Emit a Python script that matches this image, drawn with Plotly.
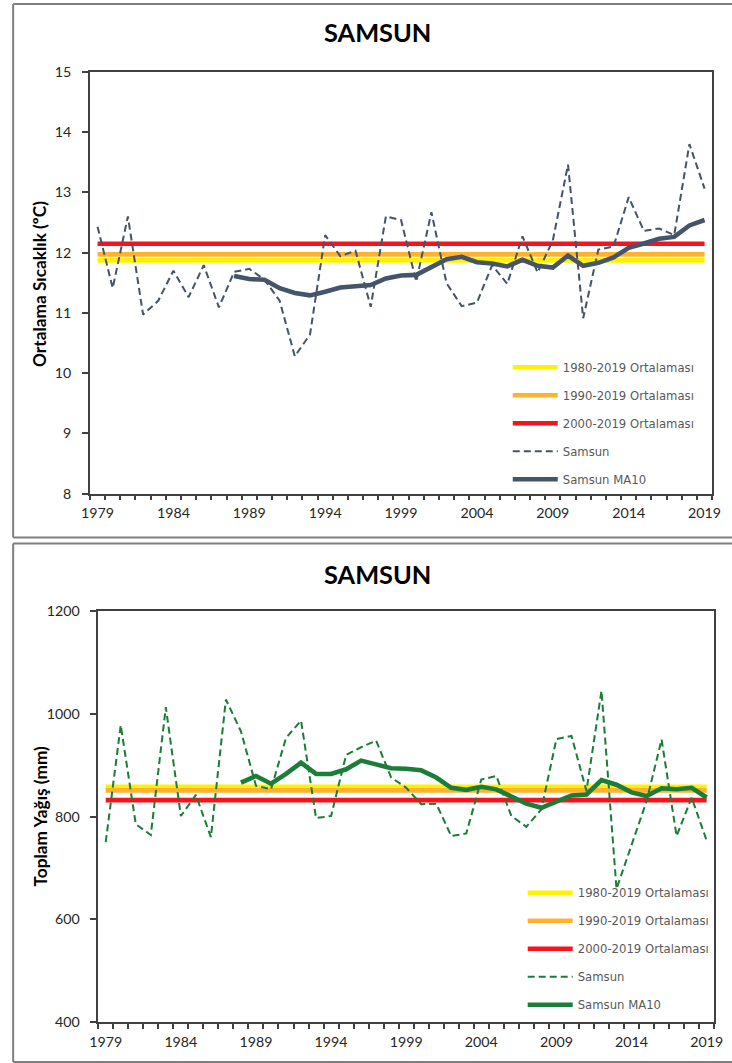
import plotly.graph_objects as go

# The photographed page shows the figure offset by the page margin (8px)
# and slightly reduced (732/748 across, 1063/1079 down); positions below are
# given in picture pixels and converted to figure pixels.
SX, SY, M = 732 / 748, 1063 / 1079, 8
W, H = 745, 1076
K = 1 / SY


def fx(px):
    return (px / SX - M) / W


def fy(py):
    return 1 - (py / SY - M) / H


years = list(range(1979, 2020))
ma_years = list(range(1988, 2020))
mean_span = [1979, 2019]

temp = [12.43, 11.41, 12.60, 10.97, 11.20, 11.70, 11.26, 11.79, 11.09, 11.68,
        11.73, 11.55, 11.20, 10.28, 10.64, 12.29, 11.94, 12.03, 11.10, 12.60,
        12.54, 11.52, 12.67, 11.49, 11.11, 11.17, 11.79, 11.48, 12.27, 11.67,
        12.20, 13.46, 10.91, 12.05, 12.10, 12.92, 12.36, 12.40, 12.29, 13.80, 13.06]
temp_ma10 = [11.61, 11.56, 11.55, 11.41, 11.33, 11.29, 11.35, 11.42, 11.44, 11.46,
             11.57, 11.62, 11.63, 11.75, 11.89, 11.93, 11.84, 11.82, 11.77, 11.88,
             11.78, 11.75, 11.95, 11.78, 11.83, 11.92, 12.08, 12.15, 12.23, 12.26,
             12.45, 12.54]
temp_means = {"1980-2019 Ortalaması": 11.87,
              "1990-2019 Ortalaması": 11.97,
              "2000-2019 Ortalaması": 12.145}

prec = [750, 978, 785, 764, 1013, 801, 842, 760, 1028, 966,
        860, 853, 953, 987, 797, 801, 920, 935, 948, 876,
        856, 824, 825, 762, 767, 872, 879, 801, 780, 814,
        951, 957, 850, 1045, 659, 743, 830, 950, 762, 837, 753]
prec_ma10 = [866, 879, 864, 883, 905, 883, 883, 892, 909, 902,
             894, 893, 890, 876, 856, 852, 858, 853, 840, 825,
             817, 829, 841, 843, 871, 862, 847, 840, 855, 853,
             856, 837]
prec_means = {"1980-2019 Ortalaması": 858,
              "1990-2019 Ortalaması": 851,
              "2000-2019 Ortalaması": 832}

mean_colors = ["#FFF200", "#FFB22C", "#F5141E"]
x_labels = list(range(1979, 2020, 5))

FONT = "Lato, 'Open Sans', sans-serif"
LEG_FONT = "'DejaVu Sans', sans-serif"
AX = "#404040"
FRAME = "#7F7F7F"

fig = go.Figure()


def add_panel(means, series, ma, color, xa, ya, legend):
    for (name, val), c in zip(means.items(), mean_colors):
        fig.add_trace(go.Scatter(x=mean_span, y=[val, val], mode="lines", name=name,
                                 line=dict(color=c, width=4.5 * K), xaxis=xa, yaxis=ya,
                                 legend=legend, legendgroup=legend + name))
    fig.add_trace(go.Scatter(x=years, y=series, mode="lines", name="Samsun",
                             line=dict(color=color, width=2 * K, dash="7px,4px"),
                             xaxis=xa, yaxis=ya, legend=legend, legendgroup=legend + "s"))
    fig.add_trace(go.Scatter(x=ma_years, y=ma, mode="lines", name="Samsun MA10",
                             line=dict(color=color, width=4.5 * K),
                             xaxis=xa, yaxis=ya, legend=legend, legendgroup=legend + "m"))


add_panel(temp_means, temp, temp_ma10, "#44546A", "x", "y", "legend")
add_panel(prec_means, prec, prec_ma10, "#1B7D38", "x2", "y2", "legend2")


def xaxis(domain, anchor):
    return dict(domain=domain, anchor=anchor, range=[1978.5, 2019.5],
                tickmode="array", tickvals=x_labels, ticks="", showgrid=False,
                zeroline=False, showline=True, mirror=True, linecolor=AX, linewidth=1.5,
                tickfont=dict(family=FONT, size=14 * K, color="#262626"),
                ticklabelstandoff=6,
                minor=dict(tickmode="linear", tick0=1978.5, dtick=1, ticks="outside",
                           ticklen=5, tickwidth=1.5, tickcolor=AX, showgrid=False))


def yaxis(domain, anchor, rng, dt):
    return dict(domain=domain, anchor=anchor, range=rng, dtick=dt, tick0=rng[0],
                ticks="outside", ticklen=6, tickwidth=1.5, tickcolor=AX,
                showgrid=False, zeroline=False, showline=True, mirror=True,
                linecolor=AX, linewidth=1.5, ticklabelstandoff=8,
                tickfont=dict(family=FONT, size=14 * K, color="#262626"))


legend_common = dict(bgcolor="rgba(0,0,0,0)", borderwidth=0,
                     font=dict(family=LEG_FONT, size=11.5 * K, color="#595959"),
                     tracegroupgap=9, itemwidth=45, traceorder="grouped",
                     xanchor="left", yanchor="top")


def frame(top, bottom):
    left = fx(12)
    line = dict(color=FRAME, width=2)
    return [
        dict(type="line", xref="paper", yref="paper", x0=left, x1=1,
             y0=fy(top), y1=fy(top), line=line),
        dict(type="line", xref="paper", yref="paper", x0=left, x1=1,
             y0=fy(bottom), y1=fy(bottom), line=line),
        dict(type="line", xref="paper", yref="paper", x0=left, x1=left,
             y0=fy(bottom), y1=fy(top), line=line),
    ]


fig.update_layout(
    width=W, height=H, margin=dict(l=0, r=0, t=0, b=0),
    paper_bgcolor="white", plot_bgcolor="white", showlegend=True,
    xaxis=xaxis([fx(89), fx(713)], "y"),
    yaxis=yaxis([fy(493), fy(70.7)], "x", [8, 15], 1),
    xaxis2=xaxis([fx(97.3), fx(715)], "y2"),
    yaxis2=yaxis([fy(1021.7), fy(610.7)], "x2", [400, 1200], 200),
    legend=dict(x=fx(508), y=fy(352), **legend_common),
    legend2=dict(x=fx(523), y=fy(878), **legend_common),
    shapes=frame(3, 537) + frame(543, 1062),
    annotations=[
        dict(text="<b>SAMSUN</b>", x=fx(377), y=fy(31), xref="paper", yref="paper",
             xanchor="center", yanchor="middle", showarrow=False,
             font=dict(family=FONT, size=25 * K, color="black")),
        dict(text="<b>SAMSUN</b>", x=fx(377), y=fy(573), xref="paper", yref="paper",
             xanchor="center", yanchor="middle", showarrow=False,
             font=dict(family=FONT, size=25 * K, color="black")),
        dict(text="<b>Ortalama Sıcaklık (ºC)</b>", x=fx(39), y=fy(283),
             xref="paper", yref="paper", xanchor="center", yanchor="middle",
             showarrow=False, textangle=-90,
             font=dict(family=FONT, size=17 * K, color="black")),
        dict(text="<b>Toplam Yağış (mm)</b>", x=fx(39), y=fy(816),
             xref="paper", yref="paper", xanchor="center", yanchor="middle",
             showarrow=False, textangle=-90,
             font=dict(family=FONT, size=17 * K, color="black")),
    ],
)

fig.write_html("out.html")
